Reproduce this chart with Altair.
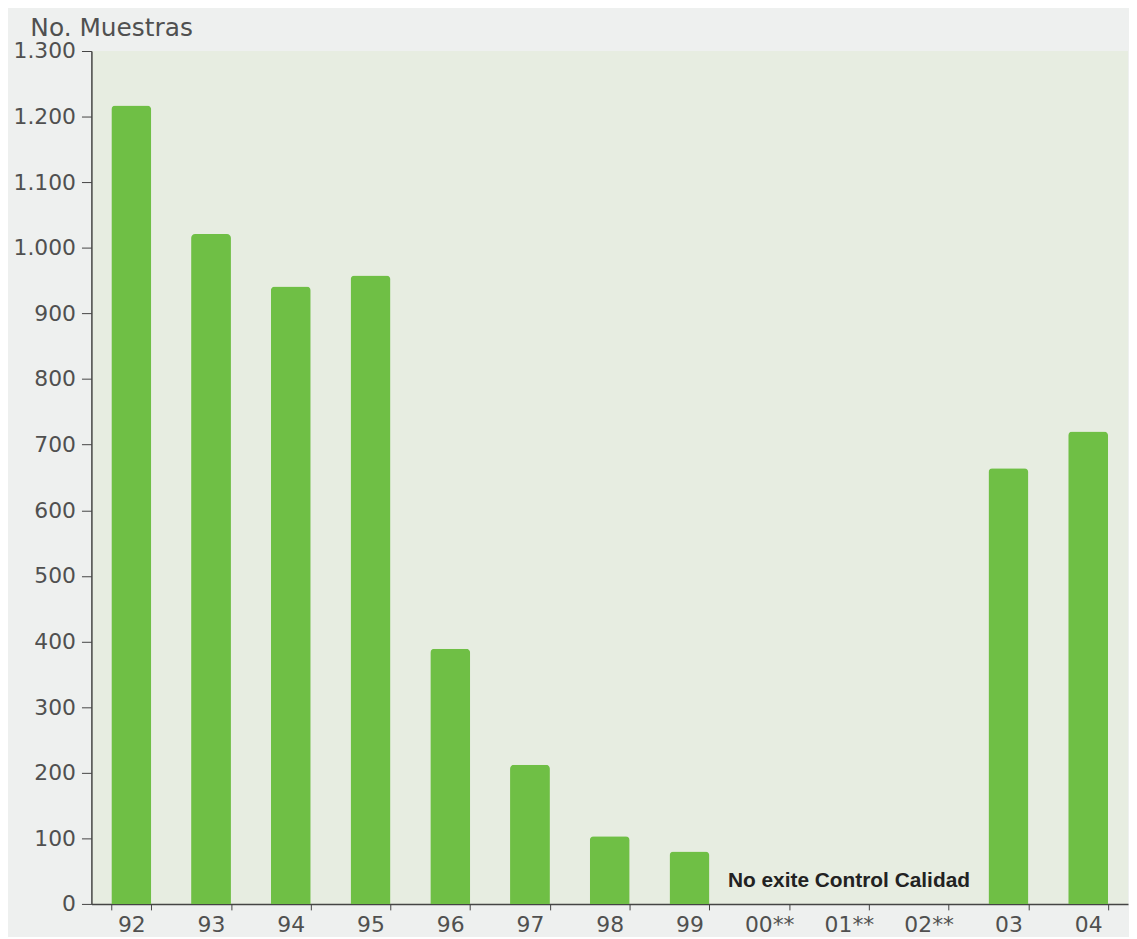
import altair as alt
import pandas as pd

categories = ["92", "93", "94", "95", "96", "97", "98", "99", "00**", "01**", "02**", "03", "04"]
values = [1217, 1021, 941, 958, 389, 212, 103, 80, None, None, None, 664, 720]

note_text = ["No exite Control Calidad"]
note_anchor = ["01**"]

df = pd.DataFrame({"anio": categories, "muestras": values})
note_df = pd.DataFrame({"texto": note_text, "anio": note_anchor})

FONT = "DejaVu Sans"

x_enc = alt.X(
    "anio:N",
    sort=categories,
    scale=alt.Scale(domain=categories, paddingInner=0.5, paddingOuter=0.25),
    axis=alt.Axis(
        title=None,
        labelAngle=0,
        labelFontSize=22,
        labelColor="#505050",
        labelFont=FONT,
        labelPadding=5,
        tickBand="extent",
        tickSize=6,
        tickColor="#444444",
        domainColor="#444444",
        domainWidth=1.5,
        grid=False,
    ),
)

bars = alt.Chart(df).mark_bar(
    color="#6fbf45", cornerRadiusTopLeft=4, cornerRadiusTopRight=4
).encode(
    x=x_enc,
    y=alt.Y(
        "muestras:Q",
        scale=alt.Scale(domain=[0, 1300], nice=False),
        axis=alt.Axis(
            title="No. Muestras",
            titleAngle=0,
            titleX=-62,
            titleY=-16,
            titleAlign="left",
            titleBaseline="alphabetic",
            titleFontSize=25,
            titleFontWeight="normal",
            titleColor="#505050",
            titleFont=FONT,
            values=list(range(0, 1301, 100)),
            labelExpr="replace(format(datum.value, ','), ',', '.')",
            labelFontSize=22,
            labelColor="#505050",
            labelFont=FONT,
            labelPadding=6,
            tickSize=10,
            tickColor="#444444",
            domainColor="#444444",
            domainWidth=1.5,
            grid=False,
        ),
    ),
)

note = alt.Chart(note_df).mark_text(
    font="Liberation Sans", fontSize=21, fontWeight="bold", color="#222222", baseline="middle"
).encode(
    x=alt.X("anio:N", sort=categories, scale=alt.Scale(domain=categories)),
    y=alt.value(836),
    text="texto:N",
)

chart = (
    alt.layer(bars, note)
    .properties(
        width=1044,
        height=859,
        autosize=alt.AutoSizeParams(type="none"),
        padding={"left": 84, "top": 40, "right": 1, "bottom": 30},
        background="#eef0ef",
    )
    .configure_view(fill="#e7ede1", stroke=None)
)

chart.save("out.html", embed_options={"renderer": "svg", "actions": False})
